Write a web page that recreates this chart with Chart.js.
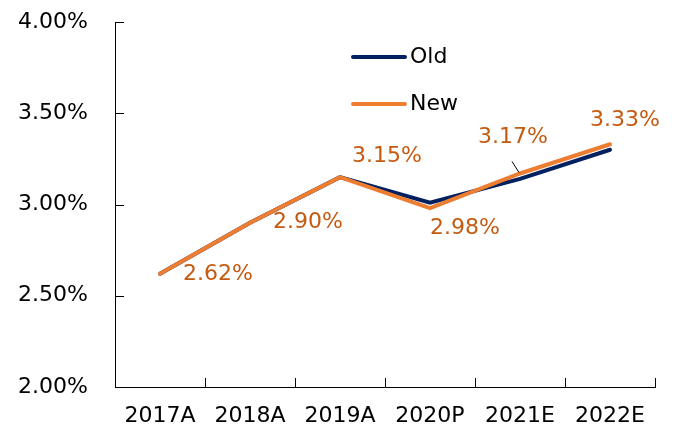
<!DOCTYPE html>
<html>
<head>
<meta charset="utf-8">
<script src="https://cdn.jsdelivr.net/npm/chart.js@4/dist/chart.umd.min.js"></script>
<style>
  html, body { margin: 0; padding: 0; background: #fff; }
  #wrap { width: 675px; height: 441px; }
</style>
</head>
<body>
<div id="wrap"><canvas id="rateChart" width="675" height="441"></canvas></div>
<script>
// values
const years = ["2017A", "2018A", "2019A", "2020P", "2021E", "2022E"];
const oldRates = [2.62, 2.90, 3.15, 3.01, 3.14, 3.30];
const newRates = [2.62, 2.90, 3.15, 2.98, 3.17, 3.33];
const newLabels = ["2.62%", "2.90%", "3.15%", "2.98%", "3.17%", "3.33%"];
const yTicks = [2.0, 2.5, 3.0, 3.5, 4.0];

const NAVY = "#002060";
const ORANGE = "#ED7D31";
const LABEL_ORANGE = "#C55A11";
const FONT = "DejaVu Sans";

// where each value label sits relative to its point
const labelOffsets = [[58, 0], [58, 0], [47, -21], [35, 20], [-7, -36], [15, -24]];

const axisTicks = {
    id: "axisTicks",
    afterDraw(chart) {
        const ctx = chart.ctx;
        const area = chart.chartArea;
        const x = chart.scales.x, y = chart.scales.y;
        ctx.save();
        ctx.strokeStyle = "#000";
        ctx.lineWidth = 1;
        ctx.beginPath();
        // y ticks point inward
        yTicks.forEach(v => {
            const py = Math.round(y.getPixelForValue(v)) + 0.5;
            ctx.moveTo(area.left, py);
            ctx.lineTo(area.left + 9, py);
        });
        // x ticks at category boundaries, pointing up
        for (let i = 1; i <= years.length; i++) {
            const px = Math.round(x.getPixelForValue(i - 0.5)) + 0.5;
            ctx.moveTo(px, area.bottom);
            ctx.lineTo(px, area.bottom - 9);
        }
        ctx.stroke();
        ctx.restore();
    }
};

const valueLabels = {
    id: "valueLabels",
    afterDatasetsDraw(chart) {
        const ctx = chart.ctx;
        const meta = chart.getDatasetMeta(1);
        ctx.save();
        ctx.font = "22px '" + FONT + "'";
        ctx.fillStyle = LABEL_ORANGE;
        ctx.textAlign = "center";
        ctx.textBaseline = "middle";
        meta.data.forEach((pt, i) => {
            const [dx, dy] = labelOffsets[i];
            ctx.fillText(newLabels[i], pt.x + dx, pt.y + dy);
        });
        // leader line for 2021E
        const p = meta.data[4];
        ctx.strokeStyle = "#000";
        ctx.lineWidth = 1;
        ctx.beginPath();
        ctx.moveTo(p.x - 8, p.y - 12);
        ctx.lineTo(p.x - 1, p.y - 1);
        ctx.stroke();
        ctx.restore();
    }
};

const legendBox = {
    id: "legendBox",
    afterDraw(chart) {
        const ctx = chart.ctx;
        const area = chart.chartArea;
        const items = [["Old", NAVY], ["New", ORANGE]];
        ctx.save();
        ctx.font = "22px '" + FONT + "'";
        ctx.textBaseline = "middle";
        ctx.lineCap = "round";
        ctx.lineWidth = 4;
        items.forEach(([name, color], i) => {
            const y0 = area.top + 35 + i * 47;
            const x0 = area.left + 238;
            ctx.strokeStyle = color;
            ctx.beginPath();
            ctx.moveTo(x0, y0);
            ctx.lineTo(x0 + 52, y0);
            ctx.stroke();
            ctx.fillStyle = "#000";
            ctx.fillText(name, x0 + 57, y0);
        });
        ctx.restore();
    }
};

new Chart(document.getElementById("rateChart"), {
    type: "line",
    data: {
        labels: years,
        datasets: [
            { label: "Old", data: oldRates, borderColor: NAVY, borderWidth: 4, order: 1 },
            { label: "New", data: newRates, borderColor: ORANGE, borderWidth: 4, order: 0 }
        ]
    },
    options: {
        responsive: false,
        animation: false,
        devicePixelRatio: 1,
        layout: { padding: { top: 22, right: 20, left: 0, bottom: 0 } },
        elements: {
            line: { tension: 0, borderJoinStyle: "miter", borderCapStyle: "round" },
            point: { radius: 0, hoverRadius: 0 }
        },
        plugins: { legend: { display: false }, tooltip: { enabled: false } },
        scales: {
            x: {
                offset: true,
                grid: { display: false, drawTicks: false },
                border: { display: true, color: "#000", width: 1 },
                ticks: { color: "#000", font: { family: FONT, size: 22 }, padding: 16, maxRotation: 0 },
                afterFit(s) { s.height = 54; s.paddingLeft = 0; s.paddingRight = 0; }
            },
            y: {
                min: 2,
                max: 4,
                afterBuildTicks(s) { s.ticks = yTicks.map(v => ({ value: v })); },
                grid: { display: false, drawTicks: false },
                border: { display: true, color: "#000", width: 1 },
                ticks: {
                    color: "#000",
                    font: { family: FONT, size: 22 },
                    padding: 27,
                    callback: v => v.toFixed(2) + "%"
                },
                afterFit(s) { s.width = 115; s.paddingTop = 0; s.paddingBottom = 0; }
            }
        }
    },
    plugins: [axisTicks, valueLabels, legendBox]
});
</script>
</body>
</html>
